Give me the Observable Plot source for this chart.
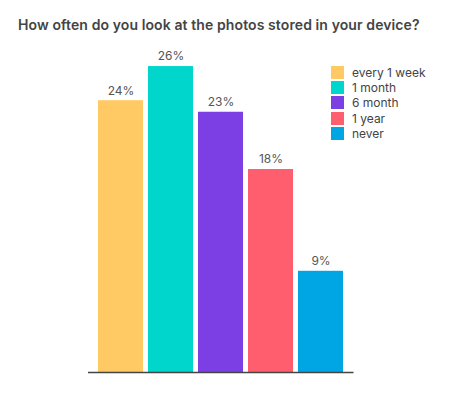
<!DOCTYPE html>
<html>
<head>
<meta charset="utf-8">
<script src="https://cdn.jsdelivr.net/npm/d3@7"></script>
<script src="https://cdn.jsdelivr.net/npm/@observablehq/plot@0.6"></script>
<style>
  body { margin: 0; background: #fff; font-family: Inter, "Liberation Sans", Arial, sans-serif; }
  #wrap { position: relative; width: 459px; height: 400px; }
  #title { position: absolute; left: 18px; top: 16px; font-size: 14px; font-weight: 600; letter-spacing: 0.1px; color: #444; white-space: nowrap; line-height: 18px; }
  #legend { position: absolute; left: 331px; top: 64.5px; font-size: 12px; color: #444; }
  .item { display: flex; align-items: center; height: 15.4px; }
  .sw { width: 13px; height: 13px; margin-right: 8px; flex: none; }
  #chart { position: absolute; left: 0; top: 0; }
</style>
</head>
<body>
<div id="wrap">
  <div id="chart"></div>
  <div id="title"></div>
  <div id="legend"></div>
</div>
<script>
const categories = ["every 1 week", "1 month", "6 month", "1 year", "never"];
const values = [23.5, 26.45, 22.5, 17.55, 8.75];
const colors = ["#FFCA63", "#00D6CB", "#7B3FE4", "#FF5E6E", "#00A5E4"];
const titleText = "How often do you look at the photos stored in your device?";

const data = categories.map((c, i) => ({category: c, value: values[i]}));

const plot = Plot.plot({
  width: 459,
  height: 400,
  marginLeft: 88,
  marginRight: 105.5,
  marginTop: 25,
  marginBottom: 28,
  x: {domain: categories, paddingInner: 0.094, paddingOuter: 0.193, axis: null},
  y: {domain: [0, 30], axis: null},
  color: {domain: categories, range: colors},
  style: {fontFamily: "Inter, Liberation Sans, Arial, sans-serif", background: "transparent"},
  marks: [
    Plot.barY(data, {x: "category", y: "value", fill: "category"}),
    Plot.ruleY([0], {stroke: "#444", strokeWidth: 1.5}),
    Plot.text(data, {x: "category", y: "value", text: d => Math.round(d.value) + "%", dy: -10, fontSize: 12, fill: "#555"})
  ]
});
document.getElementById("chart").appendChild(plot);
document.getElementById("title").textContent = titleText;

const legend = document.getElementById("legend");
categories.forEach((c, i) => {
  const item = document.createElement("div");
  item.className = "item";
  const sw = document.createElement("div");
  sw.className = "sw";
  sw.style.background = colors[i];
  const label = document.createElement("span");
  label.textContent = c;
  item.appendChild(sw);
  item.appendChild(label);
  legend.appendChild(item);
});
</script>
</body>
</html>
